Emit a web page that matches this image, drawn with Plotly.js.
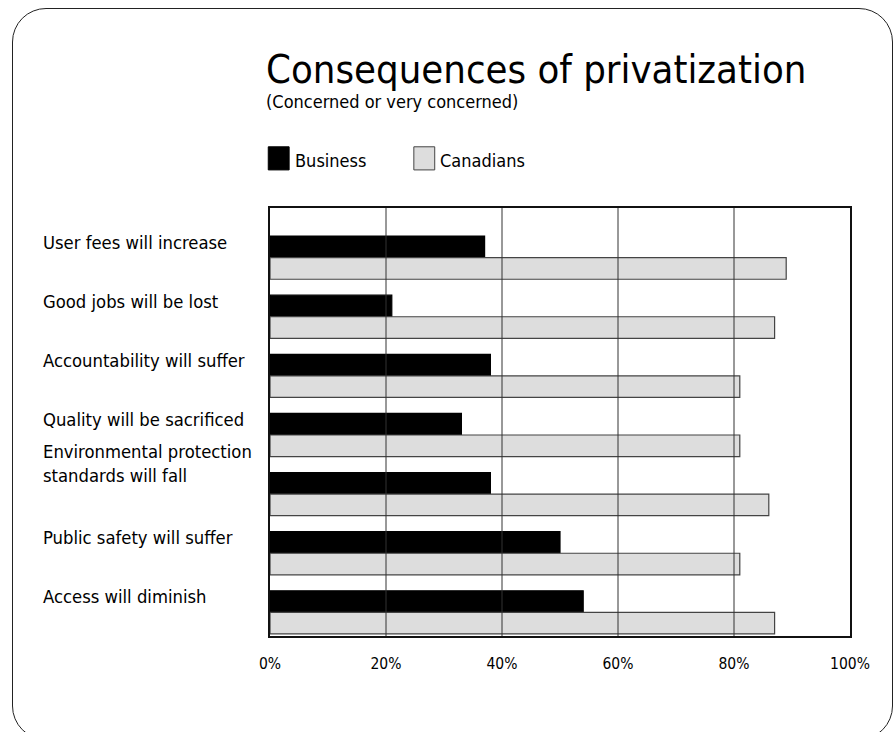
<!DOCTYPE html>
<html>
<head>
<meta charset="utf-8">
<script src="https://cdn.plot.ly/plotly-3.0.1.min.js"></script>
<style>
  html, body { margin: 0; padding: 0; background: #fff; }
  #frame { position: absolute; left: 12px; top: 8px; width: 881px; height: 732px;
           border: 1.3px solid #222; border-radius: 34px; box-sizing: border-box; }
  #chart { position: absolute; left: 0; top: 0; width: 896px; height: 732px; }
</style>
</head>
<body>
<div id="frame"></div>
<div id="chart"></div>
<script>
const categories = [
  "User fees will increase",
  "Good jobs will be lost",
  "Accountability will suffer",
  "Quality will be sacrificed",
  "Environmental protection<br>standards will fall",
  "Public safety will suffer",
  "Access will diminish"
];
const seriesNames = ["Business", "Canadians"];
const business = [37, 21, 38, 33, 38, 50, 54];
const canadians = [89, 87, 81, 81, 86, 81, 87];
const tickValues = [0, 20, 40, 60, 80, 100];
const tickLabels = ["0%", "20%", "40%", "60%", "80%", "100%"];
const titleText = "Consequences of privatization";
const subtitleText = "(Concerned or very concerned)";

const colors = ["#000000", "#dddddd"];
const lineColors = ["#000000", "#444444"];
const FONT = "DejaVu Sans Condensed";
const labelFont = { family: FONT, size: 18.3, color: "#000" };

const traces = [business, canadians].map((vals, i) => ({
  type: "bar",
  orientation: "h",
  name: seriesNames[i],
  x: vals,
  y: categories,
  marker: { color: colors[i], line: { color: lineColors[i], width: 1.2 } },
  hoverinfo: "x+y"
}));

const annotations = categories.map(c => {
  const lines = c.split("<br>").length;
  return {
    xref: "paper", yref: "y", x: -0.395, y: c,
    text: c, showarrow: false, xanchor: "left", yanchor: "bottom",
    yshift: 3 + 3 * (lines - 1),
    align: "left", font: labelFont
  };
});
annotations.push({
  xref: "paper", yref: "paper", x: -0.01, y: 1.325, xanchor: "left", yanchor: "middle",
  text: titleText, showarrow: false, font: { family: FONT, size: 39.7, color: "#000" }
});
annotations.push({
  xref: "paper", yref: "paper", x: -0.01, y: 1.249, xanchor: "left", yanchor: "middle",
  text: subtitleText, showarrow: false, font: { family: FONT, size: 18, color: "#000" }
});

// legend drawn as shapes + text
const shapes = [];
const legX = [-0.003, 0.248];
seriesNames.forEach((n, i) => {
  shapes.push({ type: "rect", xref: "paper", yref: "paper",
    x0: legX[i], x1: legX[i] + 0.036, y0: 1.089, y1: 1.143,
    fillcolor: colors[i], line: { color: lineColors[i], width: 1 } });
  annotations.push({ xref: "paper", yref: "paper", x: legX[i] + 0.042, y: 1.11,
    xanchor: "left", yanchor: "middle", text: n, showarrow: false,
    font: { family: FONT, size: 18, color: "#000" } });
});
// gridlines drawn above bars, from the tick values
tickValues.slice(1, -1).forEach(v => {
  shapes.push({ type: "line", xref: "x", yref: "paper", x0: v, x1: v, y0: 0, y1: 1,
    layer: "above", line: { color: "#333", width: 1 } });
});

const layout = {
  width: 896, height: 732,
  paper_bgcolor: "rgba(0,0,0,0)", plot_bgcolor: "rgba(0,0,0,0)",
  margin: { l: 270, r: 46, t: 208, b: 96 },
  showlegend: false,
  barmode: "group", bargap: 0.27, bargroupgap: 0,
  xaxis: {
    range: [0, 100], tickvals: tickValues, ticktext: tickLabels,
    showgrid: false, zeroline: false,
    showline: true, mirror: true, linecolor: "#111", linewidth: 2,
    ticks: "outside", ticklen: 12, tickcolor: "rgba(0,0,0,0)",
    tickfont: { family: FONT, size: 15.5, color: "#000" },
    fixedrange: true
  },
  yaxis: {
    type: "category", categoryarray: categories,
    range: [6.4, -0.84],
    showticklabels: false, ticks: "", showgrid: false, zeroline: false,
    showline: true, mirror: true, linecolor: "#111", linewidth: 2,
    fixedrange: true
  },
  annotations: annotations,
  shapes: shapes
};

Plotly.newPlot("chart", traces, layout, { staticPlot: true, displayModeBar: false });
</script>
</body>
</html>
